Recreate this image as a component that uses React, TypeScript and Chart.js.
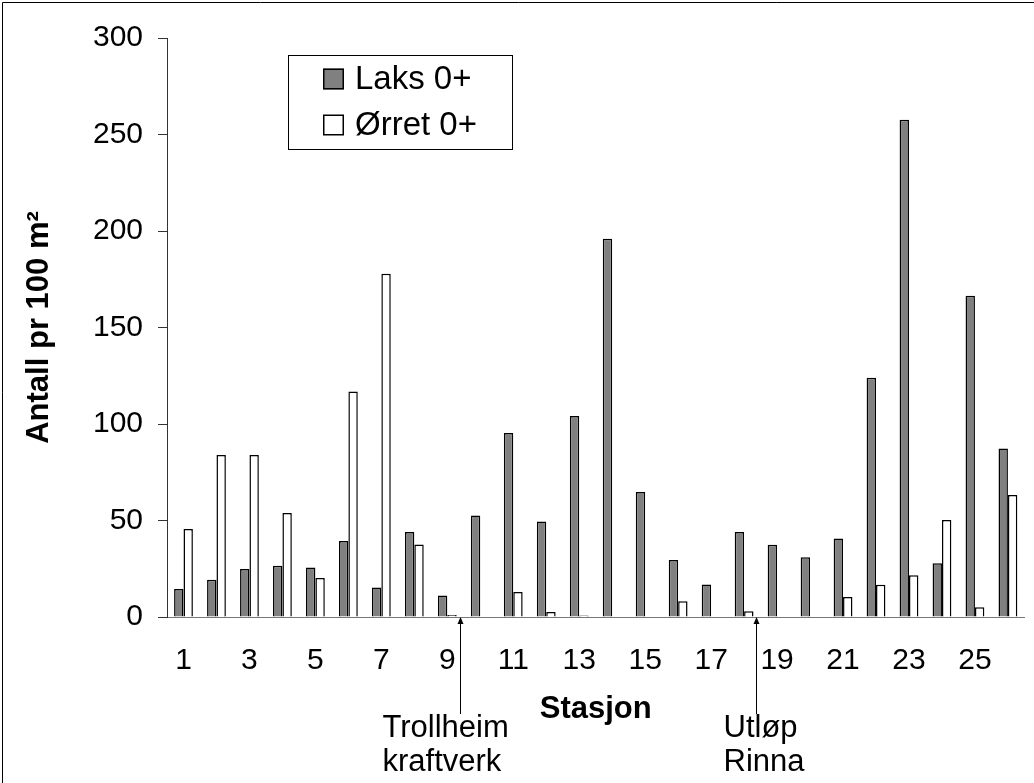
import React, { useEffect, useRef } from 'react';
import { Chart, registerables } from 'chart.js';

Chart.register(...registerables);

// ---- Data ----
const stations = ['1', '2', '3', '4', '5', '6', '7', '8', '9', '10', '11', '12', '13', '14', '15', '16', '17', '18', '19', '20', '21', '22', '23', '24', '25', '26'];
const laks = [14.5, 19.3, 24.9, 26.6, 25.7, 39.4, 15.3, 44, 11.2, 52.6, 95.3, 49.5, 104.1, 196, 64.8, 29.5, 16.8, 44, 37.5, 31, 40.7, 124, 257.7, 27.9, 166.5, 87.3];
const orret = [45.6, 84, 84, 53.9, 20.2, 116.9, 177.9, 37.6, 1, 0, 13, 2.6, 0.8, 0, 0, 8.1, 0, 3, 0, 0, 10.4, 16.7, 21.6, 50.3, 5, 63.2];
const seriesNames = ['Laks 0+', 'Ørret 0+'];
const yTitle = 'Antall pr 100 m²';
const xTitle = 'Stasjon';
const yMin = 0;
const yMax = 300;
const yStep = 50;

// annotations: arrow pointing at a position between stations
const annotationTexts = [
  ['Trollheim', 'kraftverk'],
  ['Utløp', 'Rinna'],
];
const annotationAt = [8.37, 17.35]; // category index (0-based) where the arrow points

const FONT = 'Arial, "Liberation Sans", sans-serif';

const framePlugin = {
  id: 'frame',
  beforeDraw(chart: any) {
    const ctx = chart.ctx;
    ctx.save();
    ctx.fillStyle = '#fff';
    ctx.fillRect(0, 0, chart.width, chart.height);
    ctx.strokeStyle = '#000';
    ctx.lineWidth = 1;
    ctx.beginPath();
    ctx.moveTo(2.5, chart.height);
    ctx.lineTo(2.5, 2.5);
    ctx.lineTo(chart.width, 2.5);
    ctx.stroke();
    ctx.restore();
  },
};

const legendPlugin = {
  id: 'boxLegend',
  afterDraw(chart: any) {
    const ctx = chart.ctx;
    const { left, top } = chart.chartArea;
    const bx = Math.round(left + 121);
    const by = Math.round(top + 17);
    const bw = 224;
    const bh = 94;
    ctx.save();
    ctx.fillStyle = '#fff';
    ctx.fillRect(bx, by, bw, bh);
    ctx.strokeStyle = '#000';
    ctx.lineWidth = 1;
    ctx.strokeRect(bx + 0.5, by + 0.5, bw, bh);
    chart.data.datasets.forEach((ds: any, i: number) => {
      const cy = by + 24 + i * 46;
      ctx.fillStyle = ds.backgroundColor;
      ctx.fillRect(bx + 35, cy - 10.5, 21, 21);
      ctx.strokeStyle = '#000';
      ctx.lineWidth = 1.5;
      ctx.strokeRect(bx + 35.75, cy - 9.75, 19.5, 19.5);
      ctx.fillStyle = '#000';
      ctx.font = `33px ${FONT}`;
      ctx.textAlign = 'left';
      ctx.textBaseline = 'middle';
      ctx.fillText(ds.label, bx + 67, cy + 1);
    });
    ctx.restore();
  },
};

const arrowPlugin = {
  id: 'arrows',
  afterDraw(chart: any) {
    const ctx = chart.ctx;
    const xs = chart.scales.x;
    const ys = chart.scales.y;
    const base = ys.getPixelForValue(0);
    const catW = xs.getPixelForValue(1) - xs.getPixelForValue(0);
    const textDx = [-78, -33];
    ctx.save();
    annotationAt.forEach((at, i) => {
      const idx = Math.floor(at);
      const px = Math.round(xs.getPixelForValue(idx) + (at - idx) * catW) + 0.5;
      ctx.strokeStyle = '#000';
      ctx.fillStyle = '#000';
      ctx.lineWidth = 1;
      ctx.beginPath();
      ctx.moveTo(px, base + 4);
      ctx.lineTo(px, base + 97);
      ctx.stroke();
      ctx.beginPath();
      ctx.moveTo(px, base);
      ctx.lineTo(px - 3, base + 7);
      ctx.lineTo(px + 3, base + 7);
      ctx.closePath();
      ctx.fill();
      ctx.font = `31px ${FONT}`;
      ctx.textAlign = 'left';
      ctx.textBaseline = 'middle';
      annotationTexts[i].forEach((t, j) => {
        ctx.fillText(t, px + textDx[i], base + 111 + j * 34);
      });
    });
    ctx.restore();
  },
};

export default function App() {
  const ref = useRef<HTMLCanvasElement | null>(null);

  useEffect(() => {
    if (!ref.current) return;
    Chart.defaults.font.family = FONT;
    Chart.defaults.color = '#000';
    const chart = new Chart(ref.current, {
      type: 'bar',
      data: {
        labels: stations,
        datasets: [
          {
            label: seriesNames[0],
            data: laks,
            backgroundColor: '#808080',
            borderColor: '#000',
            borderWidth: 1.5,
            barPercentage: 1,
            categoryPercentage: 0.57,
          },
          {
            label: seriesNames[1],
            data: orret,
            backgroundColor: '#ffffff',
            borderColor: '#000',
            borderWidth: 1.5,
            barPercentage: 1,
            categoryPercentage: 0.57,
          },
        ],
      },
      options: {
        responsive: false,
        animation: false,
        events: [],
        layout: { padding: { top: 38, right: 4, left: 0, bottom: 0 } },
        plugins: {
          legend: { display: false },
          tooltip: { enabled: false },
          title: { display: false },
        },
        scales: {
          x: {
            grid: { display: true, drawOnChartArea: false, drawTicks: false },
            border: { display: true, color: '#777', width: 1 },
            ticks: {
              autoSkip: false,
              maxRotation: 0,
              minRotation: 0,
              padding: 26,
              font: { size: 30 },
              color: '#000',
              callback: (_v: any, i: number) => (i % 2 === 0 ? stations[i] : ''),
            },
            title: {
              display: true,
              text: xTitle,
              font: { size: 31, weight: 'bold' },
              color: '#000',
              padding: { top: 0, bottom: 55 },
            },
            afterFit: (scale: any) => {
              scale.height = 166;
            },
          },
          y: {
            min: yMin,
            max: yMax,
            grid: { display: true, drawOnChartArea: false, drawTicks: true, tickLength: 9, color: '#333' },
            border: { display: true, color: '#333', width: 1 },
            ticks: {
              stepSize: yStep,
              padding: 15,
              font: { size: 30 },
              color: '#000',
            },
            title: {
              display: true,
              text: yTitle,
              font: { size: 31, weight: 'bold' },
              color: '#000',
              padding: { top: 21, bottom: 0 },
            },
            afterFit: (scale: any) => {
              scale.width = 167;
            },
          },
        },
      },
      plugins: [framePlugin, legendPlugin, arrowPlugin],
    } as any);
    return () => chart.destroy();
  }, []);

  return (
    <div style={{ position: 'fixed', left: 0, top: 0, width: 1034, height: 783, overflow: 'hidden', background: '#fff' }}>
      <canvas ref={ref} width={1034} height={783} style={{ display: 'block' }} />
    </div>
  );
}
